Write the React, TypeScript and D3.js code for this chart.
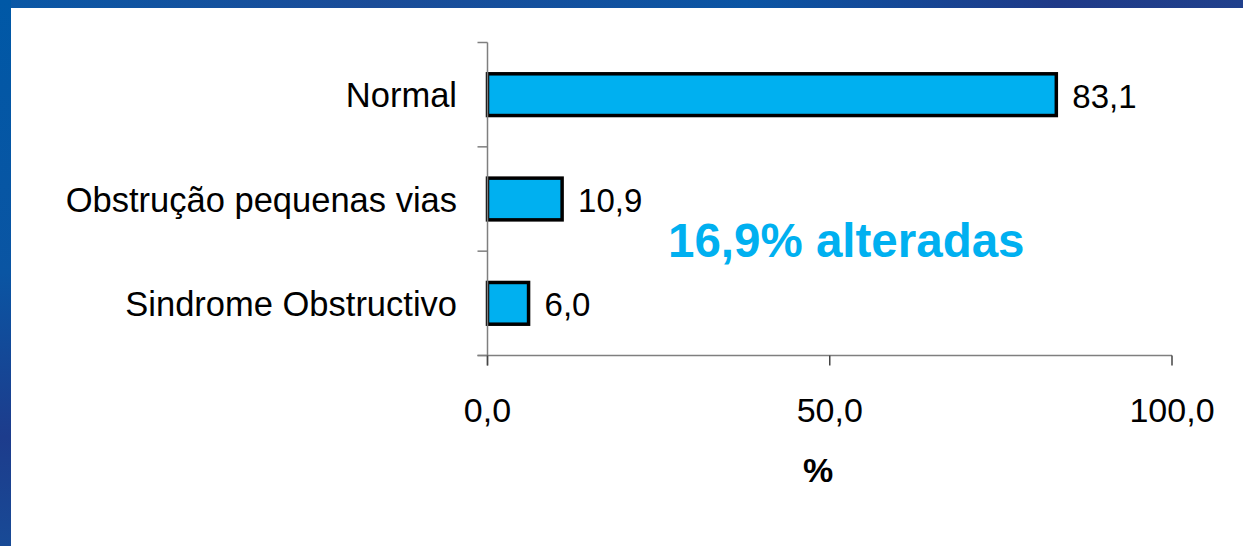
import React from "react";
import * as d3 from "d3";

const categories = ["Normal", "Obstrução pequenas vias", "Sindrome Obstructivo"];
const values = [83.1, 10.9, 6.0];
const xTicks = [0, 50, 100];
const annotation = "16,9% alteradas";
const xTitle = "%";

const W = 1243;
const H = 546;

const fmt = (v: number) => v.toFixed(1).replace(".", ",");

export default function App() {
  const x = d3.scaleLinear().domain([0, 100]).range([487.5, 1172]);
  const y = d3
    .scaleBand<string>()
    .domain(categories)
    .range([42.5, 355.5])
    .paddingInner(0.6)
    .paddingOuter(0.3);
  const step = y.step();
  const y0 = y.range()[0];
  const boundaries = d3.range(categories.length + 1).map((i) => y0 + i * step);
  const axisColor = "#7f7f7f";
  const font = "Arial, 'Liberation Sans', sans-serif";
  const yBase = boundaries[boundaries.length - 1];

  return (
    <svg
      width={W}
      height={H}
      style={{ position: "absolute", left: 0, top: 0, display: "block" }}
      fontFamily={font}
    >
      <defs>
        <linearGradient id="leftG" x1="0" y1="0" x2="0" y2="1">
          <stop offset="0" stopColor="#0058a6" />
          <stop offset="0.5" stopColor="#0a55a3" />
          <stop offset="0.8" stopColor="#1d3c8c" />
          <stop offset="1" stopColor="#184a96" />
        </linearGradient>
        <linearGradient id="topG" x1="0" y1="0" x2="1" y2="0">
          <stop offset="0" stopColor="#0a58a6" />
          <stop offset="0.3" stopColor="#1b4c98" />
          <stop offset="0.6" stopColor="#0b55a4" />
          <stop offset="0.85" stopColor="#1f3a88" />
          <stop offset="1" stopColor="#20408c" />
        </linearGradient>
      </defs>
      <rect x={0} y={0} width={W} height={H} fill="#ffffff" />
      <rect x={0} y={0} width={W} height={8} fill="url(#topG)" />
      <rect x={0} y={0} width={11} height={H} fill="url(#leftG)" />

      {/* bars */}
      {categories.map((c, i) => (
        <rect
          key={c}
          x={x(0)}
          y={y(c)!}
          width={x(values[i]) - x(0)}
          height={y.bandwidth()}
          fill="#00b0f0"
          stroke="#000"
          strokeWidth={3.5}
        />
      ))}

      {/* y axis */}
      <line x1={x(0)} x2={x(0)} y1={boundaries[0]} y2={yBase + 10} stroke={axisColor} strokeWidth={1.5} />
      {boundaries.map((b, i) => (
        <line key={i} x1={x(0) - 10} x2={x(0)} y1={b} y2={b} stroke={axisColor} strokeWidth={1.5} />
      ))}

      {/* x axis */}
      <line x1={x(0) - 10} x2={x(100)} y1={yBase} y2={yBase} stroke={axisColor} strokeWidth={1.5} />
      {xTicks.map((t) => (
        <g key={t}>
          <line x1={x(t)} x2={x(t)} y1={yBase} y2={yBase + 10} stroke="#444" strokeWidth={1.5} />
          <text x={x(t)} y={422} textAnchor="middle" fontSize={34} fill="#000">
            {fmt(t)}
          </text>
        </g>
      ))}
      <text x={818} y={482} textAnchor="middle" fontSize={34} fontWeight="bold" fill="#000">
        {xTitle}
      </text>

      {/* category labels */}
      {categories.map((c) => (
        <text key={c} x={457} y={y(c)! + y.bandwidth() / 2 + 12.5} textAnchor="end" fontSize={34.5} fill="#000">
          {c}
        </text>
      ))}

      {/* value labels */}
      {categories.map((c, i) => (
        <text key={c} x={x(values[i]) + 16} y={y(c)! + y.bandwidth() / 2 + 13} textAnchor="start" fontSize={33} fill="#000">
          {fmt(values[i])}
        </text>
      ))}

      <text x={668} y={257} fontSize={47.5} fontWeight="bold" fill="#00b0f0">
        {annotation}
      </text>
    </svg>
  );
}
